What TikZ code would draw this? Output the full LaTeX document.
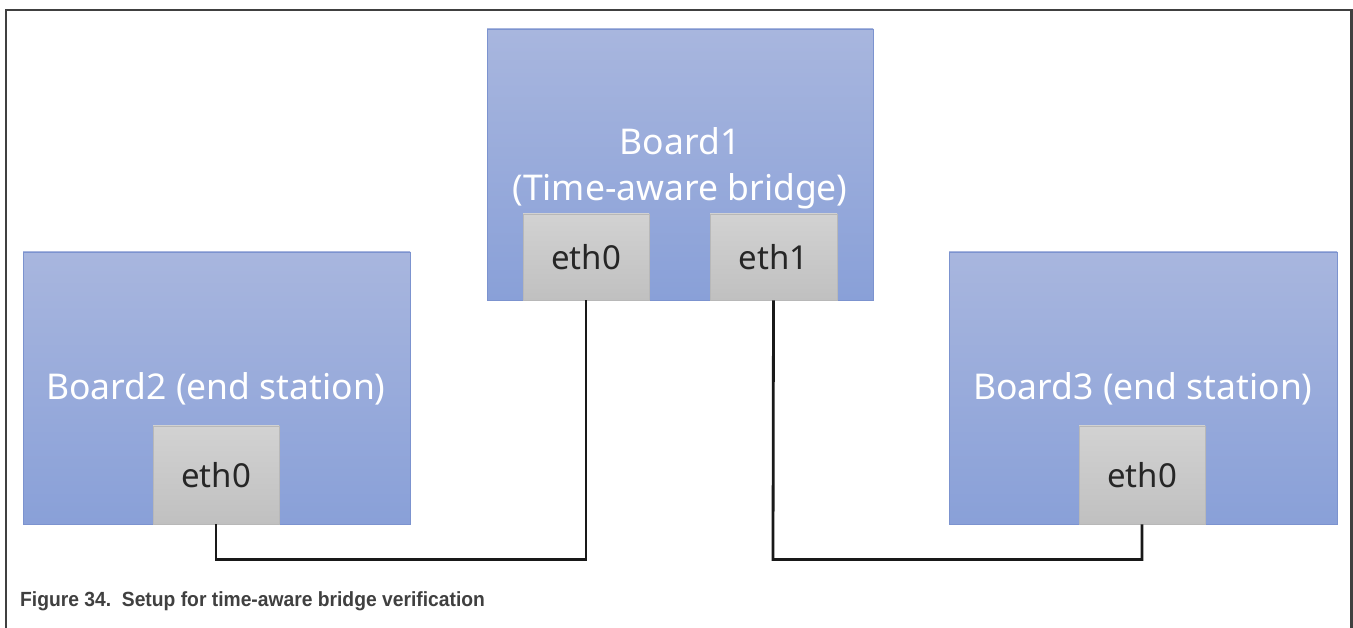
\documentclass[tikz,border=0pt]{standalone}
\usepackage{fontspec}
\setmainfont{Noto Sans}
\newfontfamily\capfont{Liberation Sans}
\newfontfamily\boardfont{Noto Sans}
\begin{document}
\begin{tikzpicture}[x=1pt,y=-1pt,
  board/.style={draw=boardedge,line width=0.8pt,top color=boardtop,bottom color=boardbot,inner sep=0pt},
  port/.style={draw=portedge,line width=0.6pt,top color=porttop,bottom color=portbot,inner sep=0pt,text=porttext,font=\fontsize{33}{36}\selectfont},
  wire/.style={line width=2.8pt,black!90},
  btext/.style={text=white,font=\boardfont\fontsize{35.5}{46}\selectfont,align=center}]
\definecolor{boardtop}{HTML}{A8B6DE}
\definecolor{boardbot}{HTML}{89A0D8}
\definecolor{boardedge}{HTML}{7C93CF}
\definecolor{porttop}{HTML}{D2D2D2}
\definecolor{portbot}{HTML}{C0C0C0}
\definecolor{portedge}{HTML}{B8B8B8}
\definecolor{porttext}{HTML}{262626}
\definecolor{frame}{HTML}{404040}
\useasboundingbox (0,0) rectangle (1353,628);
\fill[white] (0,0) rectangle (1353,628);
\draw[frame,line width=2.5pt] (6,628) -- (6,10) -- (1351.5,10) -- (1351.5,628);
% boards
\node[board,minimum width=386,minimum height=271] (b1) at (680,164.5) {};
\node[board,minimum width=387,minimum height=272] (b2) at (216.5,388) {};
\node[board,minimum width=388,minimum height=272] (b3) at (1143,388) {};
% ports
\node[port,minimum width=126,minimum height=86] (p10) at (586,257) {eth0};
\node[port,minimum width=127,minimum height=86] (p11) at (773.5,257) {eth1};
\node[port,minimum width=126,minimum height=98] (p20) at (216,475) {eth0};
\node[port,minimum width=126,minimum height=98] (p30) at (1142,475) {eth0};
% labels
\node[btext] (t1) at (680,168) {Board1\\(Time-aware bridge)};
\node[btext] (t2) at (216,389) {Board2 (end station)};
\node[btext] (t3) at (1143,389) {Board3 (end station)};
% wires
\coordinate (c1) at (216,559.5);
\coordinate (c2) at (586,559.5);
\coordinate (c3) at (773,559.5);
\coordinate (c4) at (1142,559.5);
\draw[wire] (p20.south) -- (c1) -- (c2) -- (p10.south);
\draw[wire] (p11.south) -- (c3) -- (c4) -- (p30.south);
% caption
\node[anchor=west,text=frame,font=\capfont\bfseries\fontsize{20.5}{24}\selectfont,inner sep=0pt] (cap) at (20,601) {\scalebox{0.94}[1]{Figure 34.\ \ Setup for time-aware bridge verification}};
\end{tikzpicture}
\end{document}
